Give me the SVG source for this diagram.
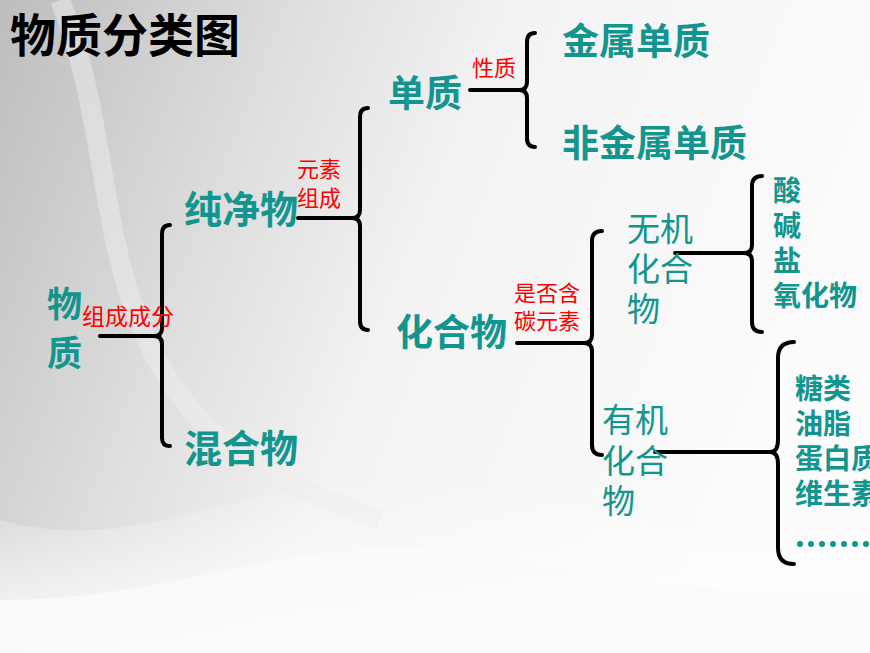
<svg xmlns="http://www.w3.org/2000/svg" width="870" height="653" viewBox="0 0 870 653">
<defs>
<linearGradient id="bg" x1="0" y1="0" x2="1" y2="0.3">
<stop offset="0" stop-color="#bdbdbd"/><stop offset="0.3" stop-color="#dcdcdc"/><stop offset="0.55" stop-color="#f3f3f3"/><stop offset="1" stop-color="#fbfbfb"/>
</linearGradient>
<linearGradient id="lw" x1="0" y1="0" x2="0" y2="1">
<stop offset="0" stop-color="#ffffff" stop-opacity="0"/><stop offset="1" stop-color="#ffffff" stop-opacity="0.9"/>
</linearGradient>
<style>
.t{fill:#13958f;font-family:"Noto Sans CJK SC",sans-serif;font-weight:bold}
.n{font-weight:normal}
.r{fill:#ff0000;font-family:"Noto Sans CJK SC",serif}
.b{fill:none;stroke:#000;stroke-width:4;stroke-linecap:round}
</style>
</defs>
<rect width="870" height="653" fill="url(#bg)"/>
<path d="M0,520 C150,560 250,470 420,480 C600,490 700,560 870,540 L870,653 L0,653Z" fill="url(#lw)"/>
<path d="M0,600 C200,600 300,520 520,560 C650,585 760,600 870,590 L870,653 L0,653Z" fill="#fafafa" opacity="0.8"/>
<path d="M60,0 C120,150 90,300 200,420 C260,480 330,500 380,520" fill="none" stroke="#eeeeee" stroke-width="20" opacity="0.5"/>
<text x="10" y="52" font-family="Noto Sans CJK SC,sans-serif" font-weight="bold" font-size="46" fill="#000">物质分类图</text>
<g id="connectors">
<path class="b" d="M100,336 H154 M170,225 Q162,225 162,234 V328 Q162,336 154,336 Q162,336 162,344 V438 Q162,446 170,446"/>
<path class="b" d="M298,218 H352 M368,108 Q360,108 360,117 V210 Q360,218 352,218 Q360,218 360,226 V321 Q360,330 368,330"/>
<path class="b" d="M470,90 H519 M535,33 Q527,33 527,42 V82 Q527,90 519,90 Q527,90 527,98 V138 Q527,147 535,147"/>
<path class="b" d="M517,343 H584 M602,231 Q592,231 592,241 V335 Q592,343 584,343 Q592,343 592,351 V445 Q592,455 602,455"/>
<path class="b" d="M675,253 H744 M762,176 Q752,176 752,186 V245 Q752,253 744,253 Q752,253 752,261 V322 Q752,332 762,332"/>
<path class="b" d="M655,452 H770 M794,342 Q778,342 778,358 V440 Q778,452 770,452 Q778,452 778,464 V548 Q778,564 794,564"/>
</g>
<g id="wuzhi"><text class="t" x="47" y="317" font-size="35">物</text><text class="t" x="47" y="366" font-size="35">质</text></g>
<g id="l1"><text class="r" x="82" y="325" font-size="23">组成成分</text></g>
<g id="chunjingwu"><text class="t" x="184" y="223" font-size="38">纯净物</text></g>
<g id="hunhewu"><text class="t" x="184" y="462" font-size="38">混合物</text></g>
<g id="l2"><text class="r" x="297" y="177" font-size="22">元素</text><text class="r" x="297" y="206" font-size="22">组成</text></g>
<g id="danzhi"><text class="t" x="388" y="107" font-size="37">单质</text></g>
<g id="huahewu"><text class="t" x="396" y="346" font-size="37">化合物</text></g>
<g id="l3"><text class="r" x="472" y="76" font-size="22">性质</text></g>
<g id="jinshu"><text class="t" x="562" y="55" font-size="37">金属单质</text></g>
<g id="feijinshu"><text class="t" x="562" y="157" font-size="37">非金属单质</text></g>
<g id="l4"><text class="r" x="514" y="301" font-size="22">是否含</text><text class="r" x="514" y="329" font-size="22">碳元素</text></g>
<g id="wuji"><text class="t n" x="627" y="241" font-size="33">无机</text><text class="t n" x="627" y="281" font-size="33">化合</text><text class="t n" x="627" y="321" font-size="33">物</text></g>
<g id="wujilist"><text class="t" x="773" y="201" font-size="28">酸</text><text class="t" x="773" y="236" font-size="28">碱</text><text class="t" x="773" y="271" font-size="28">盐</text><text class="t" x="773" y="306" font-size="28">氧化物</text></g>
<g id="youji"><text class="t n" x="602" y="432" font-size="33">有机</text><text class="t n" x="602" y="473" font-size="33">化合</text><text class="t n" x="602" y="513" font-size="33">物</text></g>
<g id="youjilist"><text class="t" x="795" y="399" font-size="28">糖类</text><text class="t" x="795" y="434" font-size="28">油脂</text><text class="t" x="795" y="469" font-size="28">蛋白质</text><text class="t" x="795" y="504" font-size="28">维生素</text>
<g fill="#13958f"><circle cx="800" cy="544" r="3"/><circle cx="811" cy="544" r="3"/><circle cx="822" cy="544" r="3"/><circle cx="833" cy="544" r="3"/><circle cx="844" cy="544" r="3"/><circle cx="855" cy="544" r="3"/><circle cx="866" cy="544" r="3"/></g></g>
</svg>
